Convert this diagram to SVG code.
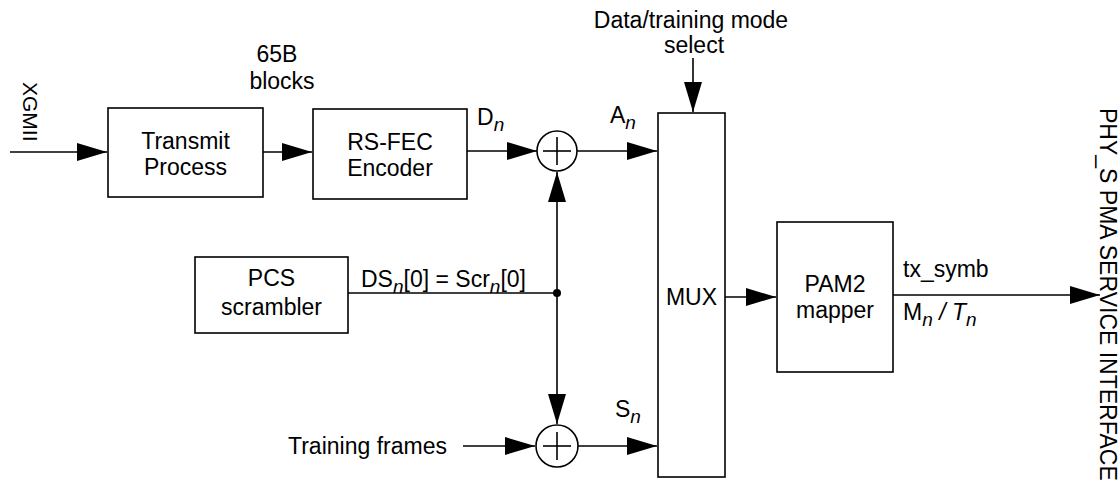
<svg xmlns="http://www.w3.org/2000/svg" width="1120" height="482" viewBox="0 0 1120 482">
<defs>
<style>
.box{fill:#fff;stroke:#000;stroke-width:1.6}
.ln{fill:none;stroke:#000;stroke-width:1.6}
.arr{fill:none;stroke:#000;stroke-width:1.6;marker-end:url(#ah)}
text{font-family:"Liberation Sans",Arial,sans-serif;font-size:23px;fill:#000}
.c{text-anchor:middle}
.sub{font-style:italic;font-size:19px}
</style>
<marker id="ah" markerUnits="userSpaceOnUse" markerWidth="32" markerHeight="20" viewBox="-31 -10 32 20" refX="0" refY="0" orient="auto">
<path d="M0,0 L-30,-9 L-30,9 z" fill="#000"/>
</marker>
</defs>

<g id="connectors">
<line class="arr" x1="10" y1="152" x2="107" y2="152"/>
<line class="arr" x1="263" y1="152" x2="312" y2="152"/>
<line class="arr" x1="467" y1="151" x2="537" y2="151"/>
<line class="arr" x1="577" y1="151" x2="657" y2="151"/>
<line class="arr" x1="693" y1="58" x2="693" y2="112"/>
<line class="ln" x1="348" y1="293" x2="557" y2="293"/>
<line class="arr" x1="557" y1="293" x2="557" y2="172"/>
<line class="arr" x1="557" y1="293" x2="557" y2="424"/>
<circle cx="557" cy="293" r="4" fill="#000"/>
<line class="arr" x1="463" y1="446" x2="535" y2="446"/>
<line class="arr" x1="578" y1="446" x2="657" y2="446"/>
<line class="arr" x1="725" y1="297" x2="776" y2="297"/>
<line class="arr" x1="893" y1="295" x2="1100" y2="295"/>
</g>

<g id="xgmii">
<text transform="translate(23,82) rotate(90)" style="font-size:21px">XGMII</text>
</g>

<g id="label-65b">
<text class="c" x="277" y="62">65B</text>
<text class="c" x="282" y="89">blocks</text>
</g>

<g id="transmit">
<rect class="box" x="108" y="108" width="155" height="89"/>
<text class="c" x="185.5" y="149">Transmit</text>
<text class="c" x="185.5" y="175">Process</text>
</g>

<g id="rsfec">
<rect class="box" x="313" y="109" width="154" height="90"/>
<text class="c" x="390" y="150">RS-FEC</text>
<text class="c" x="390" y="176">Encoder</text>
</g>

<g id="label-dn">
<text x="477" y="125">D<tspan class="sub" dy="6">n</tspan></text>
</g>

<g id="xor-top">
<circle class="box" cx="557" cy="151" r="20"/>
<line class="ln" x1="543" y1="151" x2="571" y2="151"/>
<line class="ln" x1="557" y1="137" x2="557" y2="165"/>
</g>

<g id="label-an">
<text x="610" y="123">A<tspan class="sub" dy="6">n</tspan></text>
</g>

<g id="mode-select">
<text class="c" x="691" y="28">Data/training mode</text>
<text class="c" x="694" y="53">select</text>
</g>

<g id="mux">
<rect class="box" x="658" y="113" width="67" height="364"/>
<text class="c" x="691.5" y="305">MUX</text>
</g>

<g id="pcs">
<rect class="box" x="195" y="257" width="153" height="76"/>
<text class="c" x="271.5" y="286">PCS</text>
<text class="c" x="271.5" y="315">scrambler</text>
</g>

<g id="label-ds">
<text x="361" y="287">DS<tspan class="sub" dy="6">n</tspan><tspan dy="-6">[0] = Scr</tspan><tspan class="sub" dy="6">n</tspan><tspan dy="-6">[0]</tspan></text>
</g>

<g id="training">
<text x="288" y="454">Training frames</text>
</g>

<g id="xor-bottom">
<circle class="box" cx="557" cy="446" r="21"/>
<line class="ln" x1="543" y1="446" x2="571" y2="446"/>
<line class="ln" x1="557" y1="432" x2="557" y2="460"/>
</g>

<g id="label-sn">
<text x="615" y="417">S<tspan class="sub" dy="6">n</tspan></text>
</g>

<g id="pam2">
<rect class="box" x="777" y="222" width="116" height="150"/>
<text class="c" x="835" y="292">PAM2</text>
<text class="c" x="835" y="318">mapper</text>
</g>

<g id="label-tx">
<text x="903" y="277">tx_symb</text>
<text x="903" y="320">M<tspan class="sub" dy="6">n</tspan><tspan dy="-6" font-style="italic"> / T</tspan><tspan class="sub" dy="6">n</tspan></text>
</g>

<g id="phy-interface">
<text transform="translate(1100,108) rotate(90)">PHY_S PMA SERVICE INTERFACE</text>
</g>
</svg>
